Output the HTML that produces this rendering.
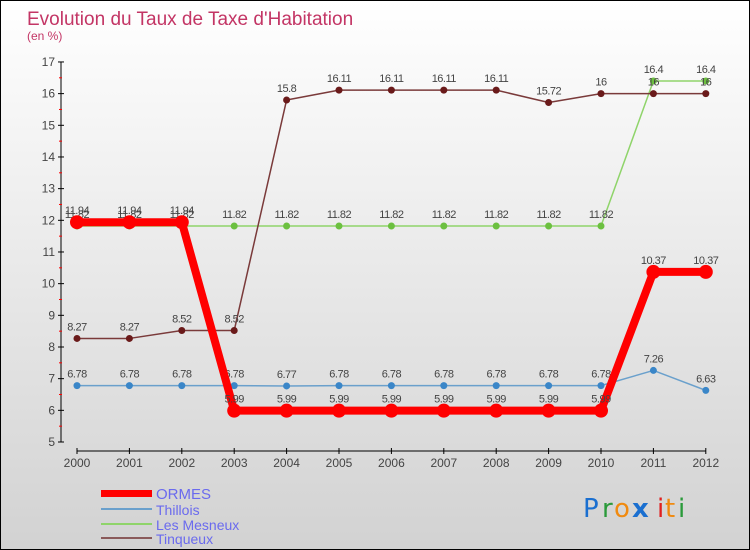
<!DOCTYPE html>
<html><head><meta charset="utf-8"><style>
body{margin:0}
#c{position:relative;width:748px;height:548px;border:1px solid #000;background:linear-gradient(#ffffff,#d2d2d2);font-family:"Liberation Sans",sans-serif;overflow:hidden}
</style></head><body>
<div id="c">
<svg id="s" width="748" height="548" style="position:absolute;left:0;top:0">
<text x="26" y="24" font-size="19" fill="#c33565">Evolution du Taux de Taxe d'Habitation</text>
<text x="26" y="39" font-size="12" fill="#c33565">(en %)</text>
<g>
<rect x="100" y="489" width="51" height="7" fill="#f00"/>
<text x="155" y="498" font-size="15" fill="#6a6aee">ORMES</text>
<rect x="100" y="507" width="51" height="2" fill="#6aa0cc"/>
<text x="155" y="514" font-size="14" fill="#6a6aee">Thillois</text>
<rect x="100" y="522" width="51" height="2" fill="#8fd46a"/>
<text x="155" y="529" font-size="14" fill="#6a6aee">Les Mesneux</text>
<rect x="100" y="536" width="51" height="2" fill="#8a5a5a"/>
<text x="155" y="543" font-size="14" fill="#6a6aee">Tinqueux</text>
</g>
<g font-size="26" font-family="'DejaVu Sans',sans-serif">
<text x="582" y="516" fill="#1a6fd0">P</text><text x="601" y="516" fill="#2a9a3a">r</text><text x="613" y="516" fill="#f08a10">o</text><text x="631" y="516" fill="#1a6fd0" font-weight="bold">x</text><text x="656" y="516" fill="#e02020">i</text><text x="664" y="516" fill="#f08a10">t</text><text x="677" y="516" fill="#2a9a3a">i</text>
</g>
</svg>
</div>
<script>
const years=[2000,2001,2002,2003,2004,2005,2006,2007,2008,2009,2010,2011,2012];
const yTicks=[5,6,7,8,9,10,11,12,13,14,15,16,17];
const ormes=[11.94,11.94,11.94,5.99,5.99,5.99,5.99,5.99,5.99,5.99,5.99,10.37,10.37];
const thillois=[6.78,6.78,6.78,6.78,6.77,6.78,6.78,6.78,6.78,6.78,6.78,7.26,6.63];
const mesneux=[11.82,11.82,11.82,11.82,11.82,11.82,11.82,11.82,11.82,11.82,11.82,16.4,16.4];
const tinqueux=[8.27,8.27,8.52,8.52,15.8,16.11,16.11,16.11,16.11,15.72,16,16,16];
const NS="http://www.w3.org/2000/svg",s=document.getElementById('s');
const X=i=>76+i*52.4, Y=v=>441-(v-5)*31.67;
function el(t,a,p){const e=document.createElementNS(NS,t);for(const k in a)e.setAttribute(k,a[k]);(p||s).appendChild(e);return e;}
const ax=el('g',{});


el('line',{x1:60,y1:61,x2:60,y2:441,stroke:'#000'},ax);
el('line',{x1:76,y1:450,x2:705,y2:450,stroke:'#000'},ax);
yTicks.forEach(v=>{el('line',{x1:57,x2:63,y1:Y(v),y2:Y(v),stroke:'#000'},ax);
 if(v<17)el('line',{x1:58,x2:61,y1:Y(v+.5),y2:Y(v+.5),stroke:'#f00'},ax);
 const t=el('text',{x:54,y:Y(v)+4,'font-size':12,fill:'#444','text-anchor':'end'},ax);t.textContent=v;
 
 });
years.forEach((yr,i)=>{el('line',{x1:X(i),x2:X(i),y1:447,y2:453,stroke:'#000'},ax);
 const t=el('text',{x:X(i),y:466,'font-size':12,fill:'#444','text-anchor':'middle'},ax);t.textContent=yr;
 
 });
function series(d,name,col,w,r,dot){
 const g=el('g',{});
 
 
 el('polyline',{points:d.map((v,i)=>X(i)+','+Y(v)).join(' '),fill:'none',stroke:col,'stroke-width':w,'stroke-linejoin':'round'},g);
 d.forEach((v,i)=>{const c=el('circle',{cx:X(i),cy:Y(v),r:r,fill:dot},g);
  
  
  const t=el('text',{x:X(i),y:Y(v)-8,'font-size':11,fill:'#444','text-anchor':'middle','letter-spacing':'-0.5'},g);t.textContent=v;
  
  });
}
series(thillois,'thillois-series','#6aa0cc',1.5,3.5,'#3a86c8');
series(mesneux,'les-mesneux-series','#8fd46a',1.5,3.5,'#6cc040');
series(tinqueux,'tinqueux-series','#7a3a3a',1.5,3.5,'#6a1a1a');
series(ormes,'ormes-series','#f00',8,7,'#f00');
</script>
</body></html>
